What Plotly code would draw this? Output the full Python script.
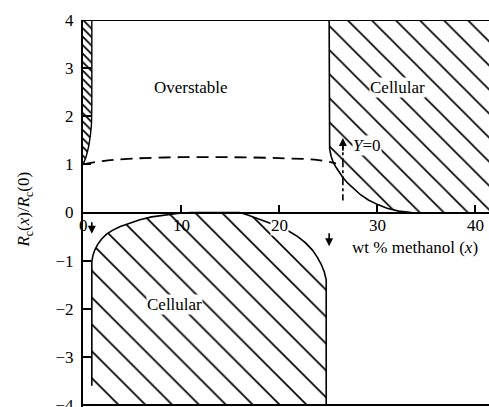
import plotly.graph_objects as go

# ---- data ----
# dashed overstable onset curve
dash_x = [0, 2, 5, 10, 15, 20, 24, 25.8]
dash_y = [1.0, 1.07, 1.12, 1.15, 1.15, 1.13, 1.09, 1.02]

# small hatched strip near x=0 (upper half)
strip_x = [0, 0.3, 0.6, 0.85, 0.9, 0.9, 0]
strip_y = [1.0, 1.15, 1.4, 1.8, 2.2, 4.0, 4.0]

# upper-right cellular region boundary
cellR_x = [25.1, 25.1, 25.15, 25.3, 25.5, 25.8, 26.1, 26.5, 27.0, 27.6, 28.3, 29.1, 30.0, 31.0, 32.2, 33.5]
cellR_y = [4.0, 1.5, 1.32, 1.17, 1.05, 0.94, 0.84, 0.73, 0.61, 0.49, 0.37, 0.26, 0.17, 0.09, 0.03, 0.0]

# lower cellular region boundary (negative Rayleigh numbers)
cellL_x = [0.9, 0.9, 1.0, 1.2, 1.5, 1.9, 2.4, 3.0, 3.8, 4.7, 5.8, 7.0, 8.3, 9.6, 11.0,
           16.0, 16.8, 17.8, 18.9, 20.0, 21.0, 21.9, 22.7, 23.4, 23.9, 24.3, 24.6, 24.8, 24.8]
cellL_y = [-3.6, -1.02, -0.9, -0.78, -0.66, -0.55, -0.45, -0.37, -0.29, -0.22, -0.15, -0.09,
           -0.05, -0.02, 0.0, 0.0, -0.05, -0.12, -0.2, -0.29, -0.39, -0.5, -0.63, -0.78, -0.93,
           -1.08, -1.23, -1.4, -4.0]

y_min, y_max = -4.04, 4.0
x_min, x_max = 0, 41.4
y_ticks = [-4, -3, -2, -1, 0, 1, 2, 3, 4]
y_labels = ["\u22124", "\u22123", "\u22122", "\u22121", "0", "1", "2", "3", "4"]
x_ticks = [10, 20, 30, 40]
x_labels = ["0", "10", "20", "30", "40"]
x_label_pos = [0, 10, 20, 30, 40]

# Y=0 marker
y0_x = 26.5
y0_span = [1.5, 0.25]

FONT = "Liberation Serif"
TXT = dict(family=FONT, size=17, color="black")

fig = go.Figure()

# upper-right cellular region fill
fig.add_trace(go.Scatter(
    x=cellR_x + [x_max, x_max], y=cellR_y + [0, 4.0],
    fill="toself", mode="lines", line=dict(width=0, color="black"),
    fillcolor="white",
    fillpattern=dict(shape="\\", size=17, solidity=0.1, fgcolor="black", fgopacity=1, bgcolor="white"),
    hoverinfo="skip", showlegend=False))
# lower cellular region fill
fig.add_trace(go.Scatter(
    x=[0.9] + cellL_x[1:] + [0.9], y=[-4.0] + cellL_y[1:] + [-4.0],
    fill="toself", mode="lines", line=dict(width=0, color="black"),
    fillcolor="white",
    fillpattern=dict(shape="\\", size=19, solidity=0.09, fgcolor="black", fgopacity=1, bgcolor="white"),
    hoverinfo="skip", showlegend=False))
# small strip fill
fig.add_trace(go.Scatter(
    x=strip_x, y=strip_y, fill="toself", mode="lines",
    line=dict(width=0, color="black"), fillcolor="white",
    fillpattern=dict(shape="\\", size=6, solidity=0.3, fgcolor="black", fgopacity=1, bgcolor="white"),
    hoverinfo="skip", showlegend=False))

# boundaries
fig.add_trace(go.Scatter(x=cellR_x, y=cellR_y, mode="lines",
                         line=dict(color="black", width=1.6),
                         hoverinfo="skip", showlegend=False))
fig.add_trace(go.Scatter(x=cellL_x, y=cellL_y, mode="lines",
                         line=dict(color="black", width=1.6),
                         hoverinfo="skip", showlegend=False))
fig.add_trace(go.Scatter(x=strip_x[:6], y=strip_y[:6], mode="lines",
                         line=dict(color="black", width=1.4, shape="spline", smoothing=0.5),
                         hoverinfo="skip", showlegend=False))
# dashed curve
fig.add_trace(go.Scatter(x=dash_x, y=dash_y, mode="lines",
                         line=dict(color="black", width=1.8, dash="12px,7px", shape="spline"),
                         hoverinfo="skip", showlegend=False))
# Y=0 dash-dot line
fig.add_trace(go.Scatter(x=[y0_x, y0_x], y=y0_span, mode="lines",
                         line=dict(color="black", width=1.6, dash="dashdot"),
                         hoverinfo="skip", showlegend=False))

# frame lines (top and bottom)
for yy in (y_max, -4.0):
    fig.add_shape(type="line", x0=x_min, x1=x_max, y0=yy, y1=yy,
                  line=dict(color="black", width=2), layer="above")

ann = []
# x tick labels
for v, t in zip(x_label_pos, x_labels):
    ann.append(dict(x=v, y=-0.27, text=t, showarrow=False,
                    font=dict(family=FONT, size=17, color="black"),
                    bgcolor="white" if v == 20 else None, borderpad=0))
# text labels
ann += [
    dict(x=11, y=2.6, text="Overstable", showarrow=False, font=TXT),
    dict(x=32.1, y=2.6, text="Cellular", showarrow=False, font=TXT, bgcolor="white", borderpad=0),
    dict(x=9.3, y=-1.92, text="Cellular", showarrow=False, font=TXT, bgcolor="white", borderpad=0),
    dict(x=29.0, y=1.4, text="<i>Y</i>=0", showarrow=False, font=TXT, bgcolor="white", borderpad=0),
    dict(x=33.9, y=-0.72, text="wt % methanol (<i>x</i>)", showarrow=False, font=TXT),
    dict(xref="paper", yref="paper", x=-0.175, y=0.51,
         text="<i>R</i><sub>c</sub>(<i>x</i>)/<i>R</i><sub>c</sub>(0)",
         textangle=-90, showarrow=False, font=dict(family=FONT, size=17, color="black")),
]
# arrows
for (xa, y_tail, y_head) in [(0.9, -0.17, -0.44), (25.1, -0.4, -0.7), (y0_x, 1.25, 1.55)]:
    ann.append(dict(x=xa, y=y_head, ax=xa, ay=y_tail, axref="x", ayref="y", xref="x", yref="y",
                    showarrow=True, arrowhead=2, arrowsize=1, arrowwidth=1.6, arrowcolor="black", text=""))

fig.update_layout(
    width=489, height=407,
    margin=dict(l=83, r=0, t=20, b=0),
    paper_bgcolor="white", plot_bgcolor="white",
    showlegend=False,
    annotations=ann,
    xaxis=dict(range=[x_min, x_max], showgrid=False, zeroline=False, showline=True,
               linecolor="black", linewidth=2, anchor="free", automargin=False,
               position=(0 - y_min) / (y_max - y_min),
               tickvals=x_ticks, ticks="inside", ticklen=7, tickwidth=1.5, tickcolor="black",
               showticklabels=False),
    yaxis=dict(range=[y_min, y_max], showgrid=False, zeroline=False, showline=True,
               linecolor="black", linewidth=2, tickvals=y_ticks, ticktext=y_labels,
               ticks="inside", ticklen=8, tickwidth=1.5, tickcolor="black",
               ticklabeloverflow="allow", automargin=False,
               tickfont=dict(family=FONT, size=17, color="black"), ticklabelstandoff=4),
)

fig.write_html("out.html")
